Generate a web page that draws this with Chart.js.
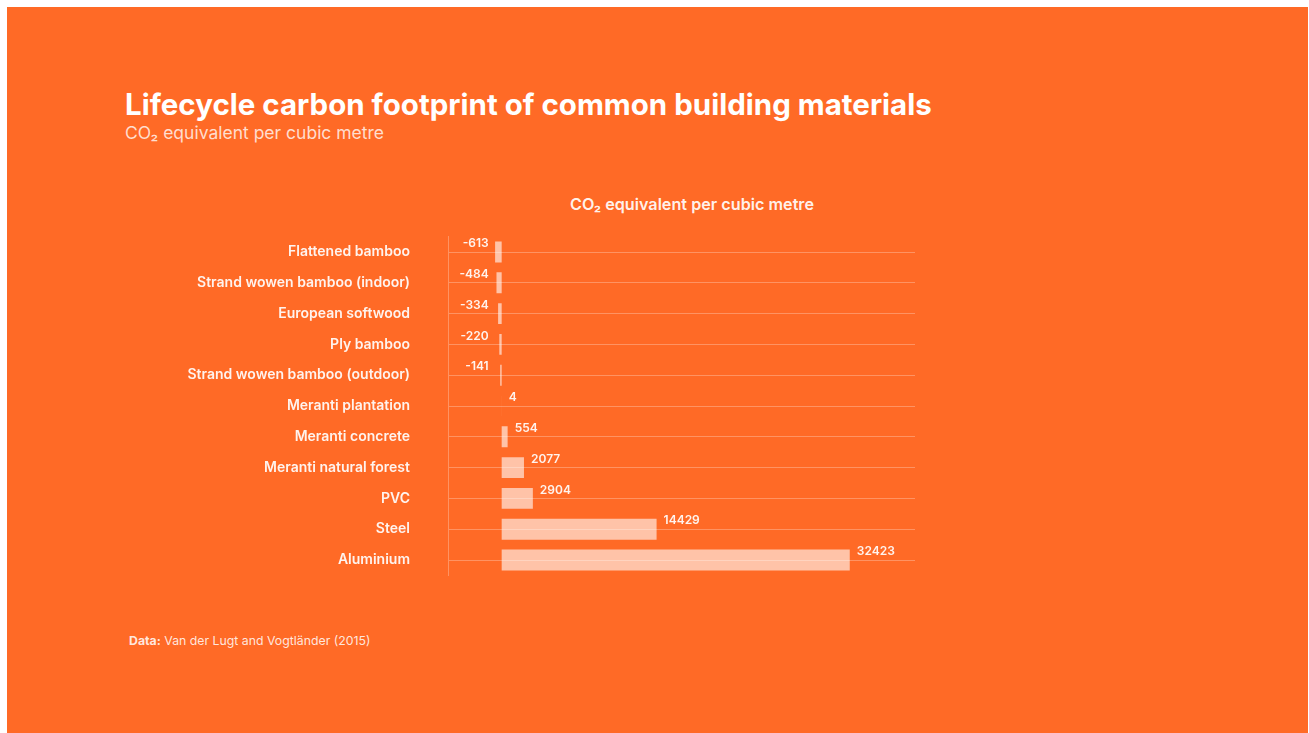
<!DOCTYPE html>
<html>
<head>
<meta charset="utf-8">
<script src="https://cdn.jsdelivr.net/npm/chart.js@4"></script>
<style>
    html, body { margin: 0; padding: 0; background: #fff; }
    body { width: 1309px; height: 733px; position: relative; overflow: hidden; font-family: Inter, "Noto Sans", sans-serif; }
    .panel { position: absolute; left: 7px; top: 7px; width: 1301px; height: 726px; background: #ff6a26; }
    .txt { position: absolute; line-height: 1; white-space: nowrap; }
    #title { left: 125px; top: 90px; font-size: 29.5px; font-weight: 700; color: #fff; }
    #subtitle { left: 125px; top: 124px; font-size: 17.5px; font-weight: 400; color: rgba(255,255,255,0.78); }
    #chartTitle { left: 692px; top: 196px; transform: translateX(-50%); font-size: 16.2px; font-weight: 600; color: rgba(255,255,255,0.92); }
    #source { left: 129px; top: 635px; font-size: 12.3px; font-weight: 400; color: rgba(255,255,255,0.85); }
    #source b { font-weight: 700; }
    #wrap { position: absolute; left: 150px; top: 220px; width: 800px; height: 370px; }
</style>
</head>
<body>
<div class="panel"></div>
<div class="txt" id="title">Lifecycle carbon footprint of common building materials</div>
<div class="txt" id="subtitle">CO₂ equivalent per cubic metre</div>
<div class="txt" id="chartTitle">CO₂ equivalent per cubic metre</div>
<div class="txt" id="source"><b>Data:</b> Van der Lugt and Vogtländer (2015)</div>
<div id="wrap"><canvas id="chart"></canvas></div>

<script>
// Materials, top to bottom
const materials = [
    'Flattened bamboo',
    'Strand wowen bamboo (indoor)',
    'European softwood',
    'Ply bamboo',
    'Strand wowen bamboo (outdoor)',
    'Meranti plantation',
    'Meranti concrete',
    'Meranti natural forest',
    'PVC',
    'Steel',
    'Aluminium'
];

// kg CO2 equivalent per m3
const co2PerCubicMetre = [-613, -484, -334, -220, -141, 4, 554, 2077, 2904, 14429, 32423];

const axisMin = -5000;
const axisMax = 38500;

const labelColor = 'rgba(255, 255, 255, 0.92)';
const lineColor = 'rgba(255, 255, 255, 0.28)';

// value labels: positive ones after the bar end, negative ones left of zero
const valueLabels = {
    id: 'valueLabels',
    afterDatasetsDraw(chart) {
        const { ctx } = chart;
        const meta = chart.getDatasetMeta(0);
        ctx.save();
        ctx.font = '600 12px Inter, "Noto Sans", sans-serif';
        ctx.fillStyle = labelColor;
        ctx.textBaseline = 'middle';
        meta.data.forEach((bar, i) => {
            const v = co2PerCubicMetre[i];
            const { x, y, base, height } = bar.getProps(['x', 'y', 'base', 'height'], true);
            const ty = y - height / 2 + 2;
            if (v >= 0) {
                ctx.textAlign = 'left';
                ctx.fillText(String(v), x + 7, ty);
            } else {
                ctx.textAlign = 'right';
                ctx.fillText(String(v), base - 13, ty);
            }
        });
        ctx.restore();
    }
};

new Chart(document.getElementById('chart'), {
    type: 'bar',
    data: {
        labels: materials,
        datasets: [{
            data: co2PerCubicMetre,
            backgroundColor: 'rgba(255, 255, 255, 0.6)',
            borderWidth: 0,
            barPercentage: 0.68,
            categoryPercentage: 1
        }]
    },
    options: {
        indexAxis: 'y',
        responsive: true,
        maintainAspectRatio: false,
        animation: false,
        layout: {
            padding: { top: 16.6, bottom: 14.6, right: 35, left: 0 }
        },
        scales: {
            x: {
                display: false,
                min: axisMin,
                max: axisMax
            },
            y: {
                // fixed label column; the wide tick padding must not eat vertical space
                afterFit(scale) {
                    scale.width = 298;
                    scale.paddingTop = 0;
                    scale.paddingBottom = 0;
                },
                grid: {
                    offset: false,
                    color: lineColor,
                    drawTicks: false
                },
                border: {
                    display: true,
                    color: lineColor
                },
                ticks: {
                    padding: 38,
                    color: labelColor,
                    font: { family: 'Inter', size: 14, weight: '600' }
                }
            }
        },
        plugins: {
            legend: { display: false },
            tooltip: { enabled: false }
        }
    },
    plugins: [valueLabels]
});
</script>
</body>
</html>
